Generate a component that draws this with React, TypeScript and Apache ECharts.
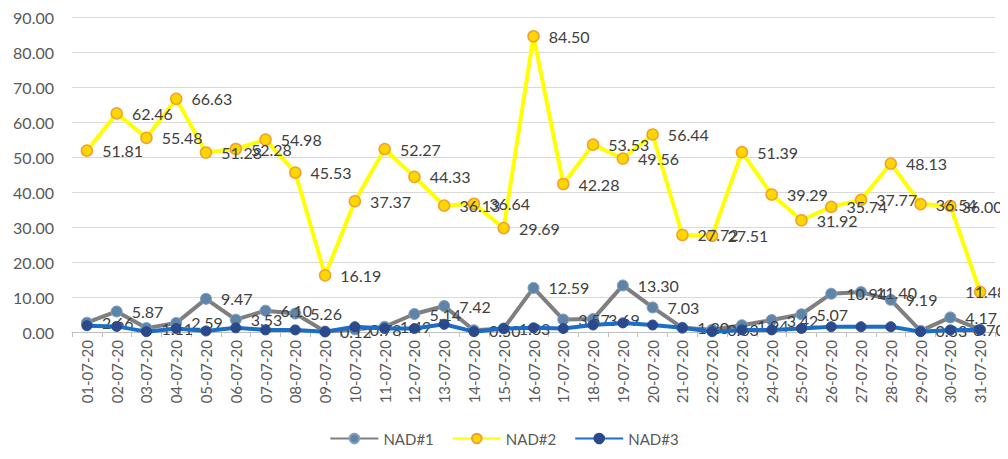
import React, { useEffect, useRef } from "react";
import * as echarts from "echarts";

const categories = [
  "01-07-20", "02-07-20", "03-07-20", "04-07-20", "05-07-20", "06-07-20", "07-07-20", "08-07-20",
  "09-07-20", "10-07-20", "11-07-20", "12-07-20", "13-07-20", "14-07-20", "15-07-20", "16-07-20",
  "17-07-20", "18-07-20", "19-07-20", "20-07-20", "21-07-20", "22-07-20", "23-07-20", "24-07-20",
  "25-07-20", "26-07-20", "27-07-20", "28-07-20", "29-07-20", "30-07-20", "31-07-20",
];

const nad1 = [
  2.66, 5.87, 1.11, 2.59, 9.47, 3.53, 6.1, 5.26, 0.12, 0.78, 1.49, 5.14, 7.42, 0.5, 1.03, 12.59,
  3.57, 3.69, 13.3, 7.03, 1.2, 0.63, 1.94, 3.42, 5.07, 10.94, 11.4, 9.19, 0.33, 4.17, 0.7,
];

const nad2 = [
  51.81, 62.46, 55.48, 66.63, 51.28, 52.28, 54.98, 45.53, 16.19, 37.37, 52.27, 44.33, 36.13, 36.64,
  29.69, 84.5, 42.28, 53.53, 49.56, 56.44, 27.72, 27.51, 51.39, 39.29, 31.92, 35.74, 37.77, 48.13,
  36.54, 36.0, 11.48,
];

const nad3 = [
  1.8, 1.6, 0.1, 1.0, 0.3, 1.2, 0.6, 0.6, 0.1, 1.5, 1.0, 1.0, 2.2, 0.1, 1.0, 1.2,
  1.0, 2.0, 2.6, 2.0, 1.2, 0.1, 0.6, 0.6, 1.0, 1.5, 1.5, 1.5, 0.1, 0.6, 0.6,
];

const yTicks = { min: 0, max: 90, interval: 10 };

const FONT = "Lato";

// Excel pulls the labels of the last points back inside the chart area
function withEdgeLabels(values: number[], shifts: Record<number, number>) {
  return values.map((v, i) =>
    shifts[i] !== undefined ? { value: v, label: { offset: [shifts[i], 0] } } : v
  );
}

export default function App() {
  const ref = useRef<HTMLDivElement>(null);
  useEffect(() => {
    if (!ref.current) return;
    const chart = echarts.init(ref.current, undefined, { renderer: "svg" });
    const labelStyle = {
      show: true,
      position: "right" as const,
      distance: 9,
      color: "#404040",
      fontSize: 16,
      fontFamily: FONT,
      formatter: (p: any) => Number(p.value).toFixed(2),
    };
    const last = nad1.length - 1;
    chart.setOption({
      animation: false,
      backgroundColor: "#ffffff",
      textStyle: { fontFamily: FONT },
      grid: { left: 72, right: 13, top: 17, bottom: 127, containLabel: false },
      legend: {
        bottom: 8,
        left: "center",
        itemWidth: 48,
        itemHeight: 12,
        itemGap: 18,
        textStyle: { color: "#595959", fontSize: 15, fontFamily: FONT },
        data: ["NAD#1", "NAD#2", "NAD#3"],
      },
      xAxis: {
        type: "category",
        data: categories,
        boundaryGap: true,
        axisLine: { lineStyle: { color: "#bfbfbf", width: 1 } },
        axisTick: { show: true, lineStyle: { color: "#bfbfbf" }, length: 5 },
        axisLabel: {
          rotate: 90,
          interval: 0,
          color: "#595959",
          fontSize: 15,
          fontFamily: FONT,
          margin: 8,
        },
      },
      yAxis: {
        type: "value",
        min: yTicks.min,
        max: yTicks.max,
        interval: yTicks.interval,
        axisLine: { show: false },
        axisTick: { show: false },
        axisLabel: {
          color: "#595959",
          fontSize: 16,
          fontFamily: FONT,
          margin: 18,
          formatter: (v: number) => v.toFixed(2),
        },
        splitLine: { lineStyle: { color: "#d9d9d9", width: 1 } },
      },
      series: [
        {
          name: "NAD#1",
          type: "line",
          data: withEdgeLabels(nad1, { [last]: -22 }),
          symbol: "circle",
          symbolSize: 11,
          lineStyle: { color: "#7f7f7f", width: 4 },
          itemStyle: { color: "#5f84a8", borderColor: "#7f9fbd", borderWidth: 1 },
          label: labelStyle,
          z: 2,
        },
        {
          name: "NAD#2",
          type: "line",
          data: withEdgeLabels(nad2, { [last - 1]: -4, [last]: -30 }),
          symbol: "circle",
          symbolSize: 11,
          lineStyle: { color: "#ffff00", width: 4 },
          itemStyle: { color: "#ffd700", borderColor: "#f0a030", borderWidth: 1.5 },
          label: labelStyle,
          z: 3,
        },
        {
          name: "NAD#3",
          type: "line",
          data: nad3,
          symbol: "circle",
          symbolSize: 10,
          lineStyle: { color: "#1a6ec8", width: 4 },
          itemStyle: { color: "#2b4a8c", borderColor: "#2b4a8c", borderWidth: 1 },
          z: 4,
        },
      ],
    });
    return () => chart.dispose();
  }, []);
  return <div ref={ref} style={{ width: 1008, height: 459, margin: -8 }} />;
}
